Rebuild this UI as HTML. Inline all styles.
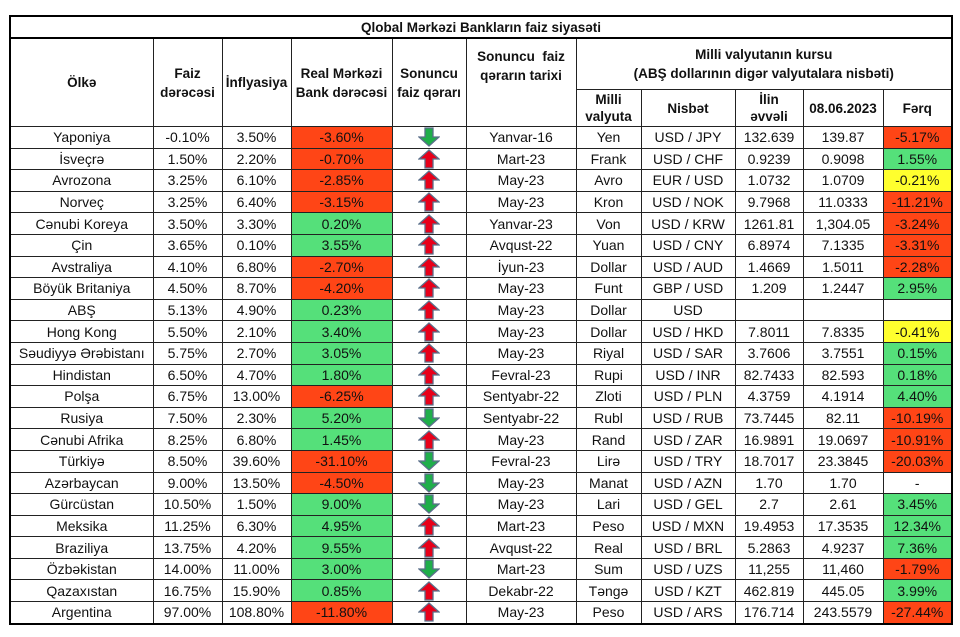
<!DOCTYPE html>
<html><head><meta charset="utf-8"><style>
body{margin:0;width:960px;height:637px;background:#fff;font-family:"Liberation Sans",sans-serif;overflow:hidden}
table{position:absolute;left:9px;top:15px;border-collapse:collapse;table-layout:fixed;border:2px solid #000}
td{border:1px solid #222;text-align:center;font-size:14px;padding:0;height:20.6px;line-height:20px;white-space:nowrap;overflow:hidden;color:#111}
.h td{font-weight:bold;font-size:13.5px;line-height:19px}
.r{background:#ff4516}.g{background:#55e07a}.y{background:#ffff2e}
svg{display:block;margin:0 auto}
</style></head><body>
<table>
<colgroup><col style="width:143px"><col style="width:69px"><col style="width:69px"><col style="width:101px"><col style="width:74px"><col style="width:110px"><col style="width:65px"><col style="width:94px"><col style="width:68px"><col style="width:80px"><col style="width:69px"></colgroup>
<tr class="h"><td colspan="11" style="height:20px;border-bottom:2px solid #000">Qlobal Mərkəzi Bankların faiz siyasəti</td></tr>
<tr class="h"><td rowspan="2" style="height:86px">Ölkə</td><td rowspan="2">Faiz<br>dərəcəsi</td><td rowspan="2">İnflyasiya</td><td rowspan="2">Real Mərkəzi<br>Bank dərəcəsi</td><td rowspan="2">Sonuncu<br>faiz qərarı</td><td rowspan="2" style="vertical-align:top;padding-top:8px">Sonuncu&nbsp; faiz<br>qərarın tarixi</td><td colspan="5" style="height:50px">Milli valyutanın kursu<br>(ABŞ dollarının digər valyutalara nisbəti)</td></tr>
<tr class="h"><td style="height:36px;line-height:17px">Milli<br>valyuta</td><td>Nisbət</td><td style="line-height:17px">İlin<br>əvvəli</td><td>08.06.2023</td><td>Fərq</td></tr>
<tbody id="b"></tbody>
</table>
<script>
var U='<svg width="22" height="20" viewBox="0 0 22 20"><polygon points="11,1 21,10 15,10 15,19 7,19 7,10 1,10" fill="#e8001a" stroke="#5a6f8a" stroke-width="1.3"/></svg>';
var D='<svg width="22" height="20" viewBox="0 0 22 20"><polygon points="11,19 21,10 15,10 15,1 7,1 7,10 1,10" fill="#1fae4a" stroke="#5a6f8a" stroke-width="1.3"/></svg>';
var d=[
["Yaponiya","-0.10%","3.50%","-3.60%","d","Yanvar-16","Yen","USD / JPY","132.639","139.87","-5.17%","r"],
["İsveçrə","1.50%","2.20%","-0.70%","u","Mart-23","Frank","USD / CHF","0.9239","0.9098","1.55%","g"],
["Avrozona","3.25%","6.10%","-2.85%","u","May-23","Avro","EUR / USD","1.0732","1.0709","-0.21%","y"],
["Norveç","3.25%","6.40%","-3.15%","u","May-23","Kron","USD / NOK","9.7968","11.0333","-11.21%","r"],
["Cənubi Koreya","3.50%","3.30%","0.20%","u","Yanvar-23","Von","USD / KRW","1261.81","1,304.05","-3.24%","r"],
["Çin","3.65%","0.10%","3.55%","u","Avqust-22","Yuan","USD / CNY","6.8974","7.1335","-3.31%","r"],
["Avstraliya","4.10%","6.80%","-2.70%","u","İyun-23","Dollar","USD / AUD","1.4669","1.5011","-2.28%","r"],
["Böyük Britaniya","4.50%","8.70%","-4.20%","u","May-23","Funt","GBP / USD","1.209","1.2447","2.95%","g"],
["ABŞ","5.13%","4.90%","0.23%","u","May-23","Dollar","USD","","","",""],
["Hong Kong","5.50%","2.10%","3.40%","u","May-23","Dollar","USD / HKD","7.8011","7.8335","-0.41%","y"],
["Səudiyyə Ərəbistanı","5.75%","2.70%","3.05%","u","May-23","Riyal","USD / SAR","3.7606","3.7551","0.15%","g"],
["Hindistan","6.50%","4.70%","1.80%","u","Fevral-23","Rupi","USD / INR","82.7433","82.593","0.18%","g"],
["Polşa","6.75%","13.00%","-6.25%","u","Sentyabr-22","Zloti","USD / PLN","4.3759","4.1914","4.40%","g"],
["Rusiya","7.50%","2.30%","5.20%","d","Sentyabr-22","Rubl","USD / RUB","73.7445","82.11","-10.19%","r"],
["Cənubi Afrika","8.25%","6.80%","1.45%","u","May-23","Rand","USD / ZAR","16.9891","19.0697","-10.91%","r"],
["Türkiyə","8.50%","39.60%","-31.10%","d","Fevral-23","Lirə","USD / TRY","18.7017","23.3845","-20.03%","r"],
["Azərbaycan","9.00%","13.50%","-4.50%","d","May-23","Manat","USD / AZN","1.70","1.70","-",""],
["Gürcüstan","10.50%","1.50%","9.00%","d","May-23","Lari","USD / GEL","2.7","2.61","3.45%","g"],
["Meksika","11.25%","6.30%","4.95%","u","Mart-23","Peso","USD / MXN","19.4953","17.3535","12.34%","g"],
["Braziliya","13.75%","4.20%","9.55%","u","Avqust-22","Real","USD / BRL","5.2863","4.9237","7.36%","g"],
["Özbəkistan","14.00%","11.00%","3.00%","d","Mart-23","Sum","USD / UZS","11,255","11,460","-1.79%","r"],
["Qazaxıstan","16.75%","15.90%","0.85%","u","Dekabr-22","Təngə","USD / KZT","462.819","445.05","3.99%","g"],
["Argentina","97.00%","108.80%","-11.80%","u","May-23","Peso","USD / ARS","176.714","243.5579","-27.44%","r"]];
var h='';d.forEach(function(r){var rc=r[3][0]=='-'?'r':'g';
h+='<tr><td>'+r[0]+'</td><td>'+r[1]+'</td><td>'+r[2]+'</td><td class="'+rc+'">'+r[3]+'</td><td>'+(r[4]=='u'?U:D)+'</td><td>'+r[5]+'</td><td>'+r[6]+'</td><td>'+r[7]+'</td><td>'+r[8]+'</td><td>'+r[9]+'</td><td class="'+r[11]+'">'+r[10]+'</td></tr>';});
document.getElementById('b').innerHTML=h;
</script>
</body></html>
